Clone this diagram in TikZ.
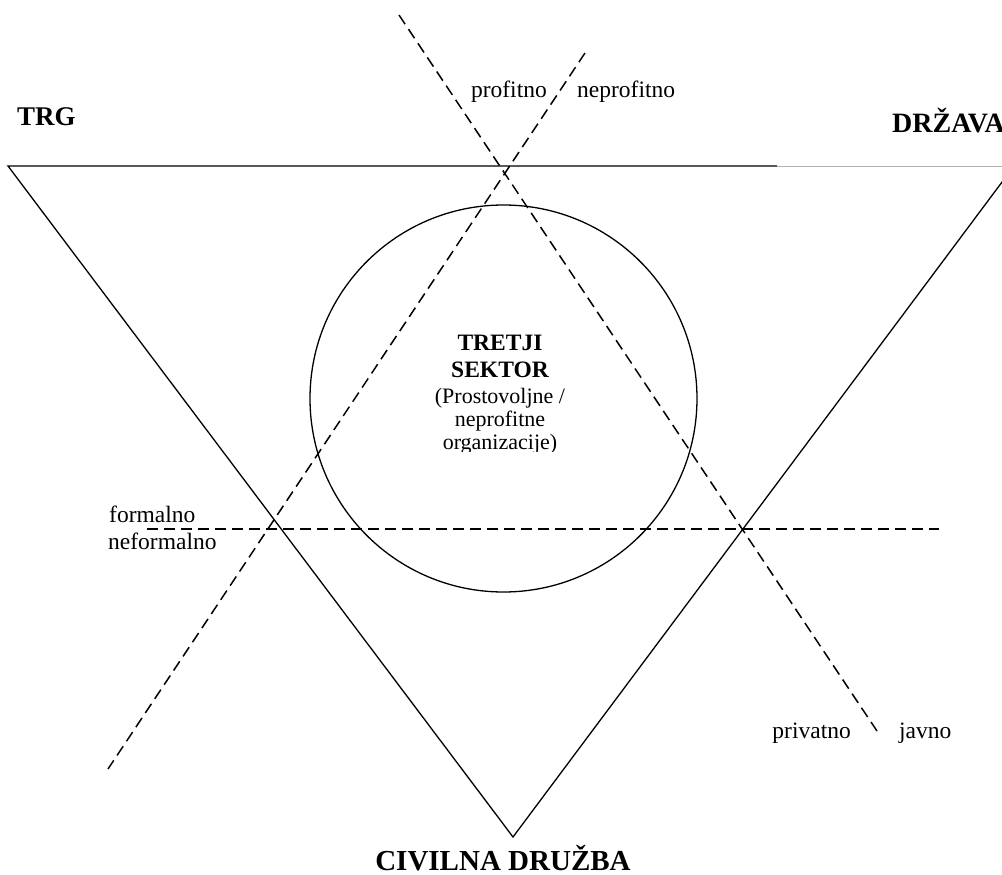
\documentclass[tikz,border=0pt]{standalone}
\usepackage{fontspec}
\setmainfont{Liberation Serif}
\newcommand{\bigfont}{\fontsize{27}{31}\selectfont\bfseries}
\newcommand{\midfont}{\fontsize{23.5}{27}\selectfont}
\newcommand{\smallfont}{\fontsize{22}{25}\selectfont}

\begin{document}
\begin{tikzpicture}[x=1pt,y=-1pt]
\useasboundingbox (0,0) rectangle (1002,875);
\clip (0,0) rectangle (1002,875);
\begin{scope}
	\tikzstyle{every node}=[inner sep=0pt, anchor=base]
	\tikzstyle{edge}=[line width=1.3pt]
	\tikzstyle{split}=[line width=1.5pt, dash pattern=on 11pt off 6pt]
	% triangle corners
	\coordinate (trg) at (8,166);
	\coordinate (drz) at (1014,166);
	\coordinate (civ) at (513,837);
	\coordinate (cut) at (777,166);
	\draw [edge] (cut) -- (trg) -- (civ) -- (drz);
	\draw [line width=0.8pt, gray!60] (cut) -- (drz);
	% third sector
	\node[draw, circle, line width=1.3pt, minimum size=387pt, anchor=center] (circ) at (503.5,398.5) {};
	% dividing lines
	\coordinate (pt) at (399,15);
	\coordinate (pb) at (877,731);
	\coordinate (nt) at (585,53);
	\coordinate (nb) at (108,769);
	\coordinate (fl) at (147,529);
	\coordinate (fr) at (939,529);
	\draw [split] (pt) -- (pb);
	\draw [split] (nt) -- (nb);
	\draw [split] (fl) -- (fr);
	% corner labels
	\node[anchor=base west] (trgtxt) at (17,125) {\bigfont TRG};
	\node[anchor=base west] (drztxt) at (892,132) {\bigfont\fontsize{28}{32}\selectfont DRŽAVA};
	\node (civtxt) at (503,870) {\bigfont\fontsize{29}{33}\selectfont CIVILNA DRUŽBA};
	% line labels
	\node[anchor=base east] (prof) at (547,97) {\midfont profitno};
	\node[anchor=base west] (nprof) at (577,97) {\midfont neprofitno};
	\node[anchor=base west] (form) at (109,522) {\midfont formalno};
	\node[anchor=base west] (nform) at (108,549) {\midfont neformalno};
	\node[anchor=base east] (priv) at (851,738) {\midfont privatno};
	\node[anchor=base west] (javno) at (899,738) {\midfont javno};
	% centre text
	\begin{scope}
	\clip (300,300) rectangle (700,451);
	\node (l1) at (500,350) {\midfont\bfseries TRETJI};
	\node (l2) at (500,377) {\midfont\bfseries SEKTOR};
	\node (l3) at (500,403) {\smallfont (Prostovoljne /};
	\node (l4) at (500,426) {\smallfont neprofitne};
	\node (l5) at (500,449) {\smallfont organizacije)};
	\end{scope}
\end{scope}
\end{tikzpicture}
\end{document}
